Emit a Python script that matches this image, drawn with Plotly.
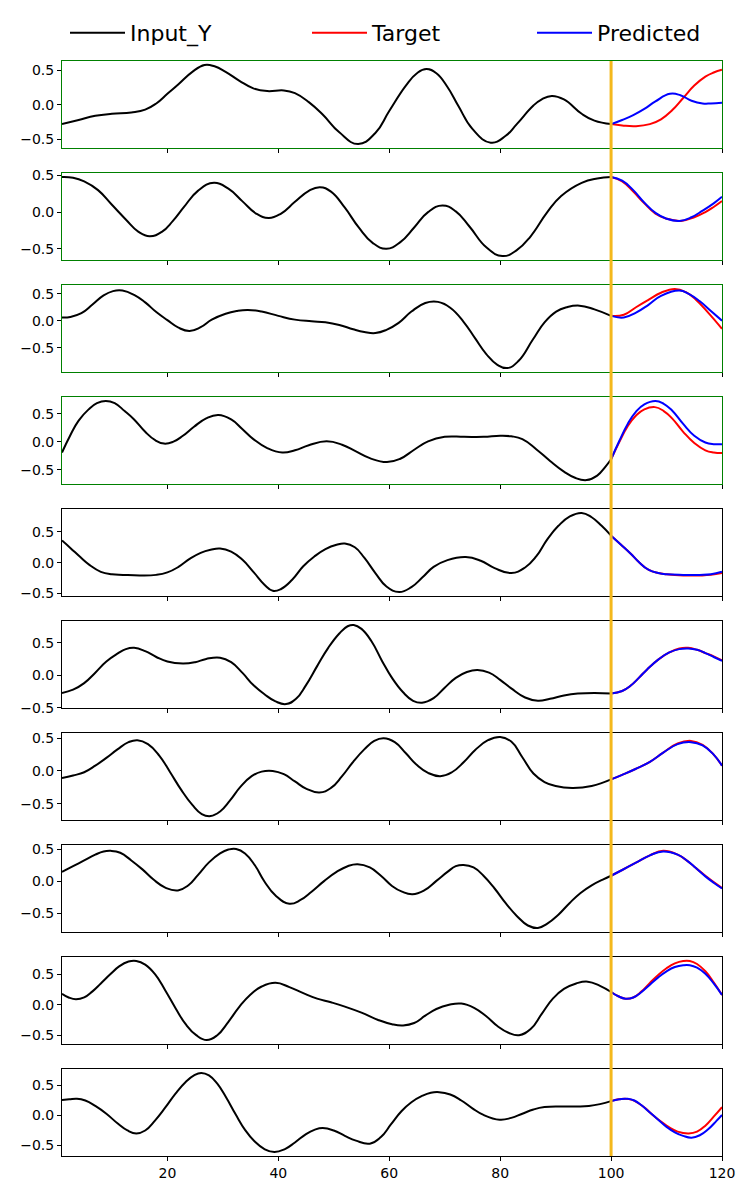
import plotly.graph_objects as go
from plotly.subplots import make_subplots

# values, one panel per sample
p1_in_x = [1, 4, 7, 10, 13.5, 16, 18, 20, 22, 24.5, 26.7, 28.5, 30.5, 33, 35.5, 38, 41, 43, 45.5, 48, 51, 54.4, 57.5, 60, 63, 65, 66.7, 68.5, 70.5, 72.5, 75, 78.3, 81, 83, 86, 87.5, 89.3, 91.5, 94.7, 97, 100]
p1_in_y = [-0.28, -0.22, -0.16, -0.13, -0.11, -0.07, 0.02, 0.16, 0.30, 0.48, 0.58, 0.56, 0.48, 0.35, 0.24, 0.20, 0.21, 0.17, 0.04, -0.14, -0.40, -0.57, -0.41, -0.09, 0.28, 0.46, 0.52, 0.46, 0.26, -0.02, -0.35, -0.55, -0.45, -0.28, -0.01, 0.08, 0.13, 0.08, -0.13, -0.23, -0.28]
p1_tg_x = [100, 102, 104.5, 107, 109, 111, 113, 115, 117, 118.5, 120]
p1_tg_y = [-0.28, -0.30, -0.31, -0.28, -0.21, -0.08, 0.10, 0.28, 0.41, 0.47, 0.51]
p1_pr_x = [100, 102, 104, 106, 108, 110.6, 112.5, 114.5, 116.5, 118, 120]
p1_pr_y = [-0.28, -0.22, -0.15, -0.06, 0.05, 0.16, 0.14, 0.06, 0.02, 0.02, 0.03]

p2_in_x = [1, 3, 5, 7.5, 10, 12.5, 14.8, 16.8, 19, 21, 23, 25.5, 28.4, 31, 33.5, 36, 38.3, 40.5, 43, 45.5, 47.5, 49.5, 52, 54.5, 57, 59.5, 62, 64.5, 67, 69.6, 72, 74.5, 77.5, 80.4, 83, 85.5, 88.5, 91, 94.7, 97.5, 100]
p2_in_y = [0.48, 0.47, 0.42, 0.30, 0.10, -0.10, -0.27, -0.33, -0.27, -0.12, 0.07, 0.29, 0.40, 0.32, 0.15, -0.02, -0.08, -0.02, 0.14, 0.29, 0.34, 0.28, 0.06, -0.21, -0.42, -0.50, -0.41, -0.21, 0.00, 0.09, 0.01, -0.20, -0.48, -0.60, -0.52, -0.33, 0.00, 0.22, 0.40, 0.46, 0.48]
p2_tg_x = [100, 102, 104, 106, 108, 110, 112.6, 115, 117, 118.5, 120]
p2_tg_y = [0.48, 0.42, 0.28, 0.12, -0.02, -0.09, -0.12, -0.07, 0.00, 0.07, 0.15]
p2_pr_x = [100, 102, 104, 106, 108, 110, 112.3, 114.5, 116.5, 118.5, 120]
p2_pr_y = [0.48, 0.43, 0.30, 0.13, -0.01, -0.09, -0.12, -0.07, 0.02, 0.12, 0.21]

p3_in_x = [1, 2.5, 4.5, 6.5, 8.5, 10.2, 11.9, 14, 16, 18, 20, 22, 24, 26, 28, 30.5, 32.5, 34.5, 37, 40, 43, 46, 48.5, 51, 53.5, 55.5, 57.5, 59.5, 61.7, 64, 66.5, 68.8, 71, 73.4, 75.5, 77.5, 79.5, 81.3, 83.3, 85.9, 88, 90.1, 92, 94.3, 97, 100]
p3_in_y = [0.06, 0.07, 0.14, 0.30, 0.47, 0.55, 0.56, 0.48, 0.34, 0.16, 0.01, -0.13, -0.19, -0.12, 0.02, 0.13, 0.18, 0.20, 0.17, 0.09, 0.02, -0.01, -0.03, -0.08, -0.16, -0.21, -0.23, -0.17, -0.04, 0.17, 0.33, 0.35, 0.24, -0.02, -0.33, -0.62, -0.82, -0.88, -0.75, -0.35, -0.03, 0.17, 0.25, 0.28, 0.21, 0.09]
p3_tg_x = [100, 102.3, 104.5, 106.8, 109, 111.5, 113.5, 115.3, 117.5, 120]
p3_tg_y = [0.09, 0.11, 0.25, 0.39, 0.52, 0.59, 0.53, 0.39, 0.15, -0.15]
p3_pr_x = [100, 102.3, 104.5, 106.8, 109, 112.3, 114, 116, 118, 120]
p3_pr_y = [0.09, 0.06, 0.15, 0.30, 0.46, 0.56, 0.50, 0.36, 0.18, 0.00]

p4_in_x = [1, 2.5, 4, 5.8, 7.3, 8.9, 10.5, 12.3, 14, 16, 17.8, 19.4, 21, 22.8, 24.8, 27, 29.2, 31.5, 33.5, 35.5, 38, 40.7, 43, 45.5, 48.7, 51.5, 54, 56.5, 59.6, 62, 64.5, 67, 70, 73.5, 77, 80, 82, 84, 86.5, 89, 91.5, 93.5, 95.6, 97.5, 99, 100]
p4_in_y = [-0.19, 0.12, 0.38, 0.58, 0.69, 0.73, 0.69, 0.55, 0.40, 0.18, 0.03, -0.03, 0.00, 0.11, 0.27, 0.42, 0.48, 0.40, 0.23, 0.05, -0.11, -0.19, -0.15, -0.06, 0.01, -0.05, -0.17, -0.29, -0.36, -0.30, -0.14, 0.01, 0.09, 0.09, 0.09, 0.11, 0.10, 0.05, -0.13, -0.34, -0.53, -0.64, -0.68, -0.60, -0.44, -0.31]
p4_tg_x = [100, 101.5, 103, 104.5, 106, 107.9, 109.5, 111, 113, 115, 117, 118.5, 120]
p4_tg_y = [-0.31, 0.00, 0.28, 0.47, 0.58, 0.62, 0.55, 0.42, 0.18, -0.02, -0.15, -0.19, -0.20]
p4_pr_x = [100, 101.5, 103, 104.5, 106, 108, 109.5, 111, 113, 115, 117, 118.5, 120]
p4_pr_y = [-0.31, 0.02, 0.32, 0.54, 0.67, 0.73, 0.68, 0.56, 0.32, 0.11, -0.01, -0.04, -0.04]

p5_in_x = [1, 2.5, 4.3, 6, 8, 10, 12, 15, 18, 20, 22, 24, 26, 27.8, 29.5, 31.5, 33.5, 35.5, 37.5, 39, 40.5, 42.5, 44.5, 46.5, 48.5, 50.5, 52, 53.8, 55.5, 57.5, 59.5, 61.8, 64, 66, 68, 70.5, 73.8, 76.5, 79, 82, 84.5, 86.5, 88.5, 90.5, 92.5, 94.7, 96.5, 98.3, 100]
p5_in_y = [0.36, 0.24, 0.09, -0.04, -0.15, -0.19, -0.20, -0.21, -0.20, -0.16, -0.07, 0.06, 0.16, 0.21, 0.23, 0.18, 0.05, -0.15, -0.36, -0.46, -0.43, -0.28, -0.06, 0.10, 0.22, 0.29, 0.31, 0.25, 0.08, -0.17, -0.39, -0.48, -0.40, -0.24, -0.07, 0.04, 0.09, 0.03, -0.09, -0.17, -0.08, 0.10, 0.38, 0.60, 0.75, 0.81, 0.74, 0.60, 0.44]
p5_tg_x = [100, 101.7, 103.5, 105, 106.8, 108.5, 110, 113, 116, 118, 120]
p5_tg_y = [0.44, 0.30, 0.15, 0.01, -0.12, -0.17, -0.19, -0.21, -0.21, -0.20, -0.17]
p5_pr_x = [100, 101.7, 103.5, 105, 106.8, 108.5, 110, 113, 116, 118, 120]
p5_pr_y = [0.44, 0.30, 0.15, 0.01, -0.12, -0.17, -0.19, -0.20, -0.20, -0.19, -0.15]

p6_in_x = [1, 3, 5, 7, 9, 11, 12.5, 14, 16, 18, 20, 22.8, 25, 27, 29.5, 31.5, 33.5, 35.5, 37.5, 39.5, 41.4, 43.2, 45, 47, 49, 51, 52.5, 53.6, 55, 56.8, 58.7, 60.5, 62.5, 64.3, 65.9, 68, 70, 72, 74, 75.9, 78, 80, 82, 84.5, 86.8, 89, 91.5, 94, 97, 100]
p6_in_y = [-0.27, -0.22, -0.12, 0.04, 0.21, 0.33, 0.40, 0.42, 0.37, 0.28, 0.21, 0.18, 0.20, 0.25, 0.27, 0.20, 0.04, -0.15, -0.29, -0.40, -0.44, -0.36, -0.15, 0.14, 0.42, 0.64, 0.75, 0.77, 0.71, 0.52, 0.22, -0.04, -0.26, -0.39, -0.42, -0.35, -0.19, -0.04, 0.05, 0.08, 0.04, -0.07, -0.20, -0.34, -0.39, -0.36, -0.31, -0.28, -0.27, -0.28]
p6_tg_x = [100, 102, 103.5, 105, 106.5, 108.5, 110.5, 112.3, 113.9, 115.5, 117, 118.5, 120]
p6_tg_y = [-0.28, -0.24, -0.16, -0.04, 0.09, 0.24, 0.35, 0.41, 0.42, 0.39, 0.34, 0.29, 0.23]
p6_pr_x = [100, 102, 103.5, 105, 106.5, 108.5, 110.5, 112.3, 113.9, 115.5, 117, 118.5, 120]
p6_pr_y = [-0.28, -0.24, -0.16, -0.04, 0.09, 0.24, 0.35, 0.40, 0.41, 0.39, 0.34, 0.28, 0.22]

p7_in_x = [1, 3, 5, 7, 9, 11, 13, 14.6, 16.5, 18.5, 20.5, 22.5, 24.5, 26.2, 27.8, 29.5, 31.3, 33.2, 35.2, 37, 39, 41, 43, 45, 47.4, 49.5, 51.5, 53.5, 55.5, 57.3, 59, 61, 63, 65, 67, 69.2, 71.3, 73.5, 75.5, 77.8, 80, 82, 84, 86, 88, 90, 93, 96.5, 100]
p7_in_y = [-0.11, -0.07, -0.02, 0.08, 0.20, 0.33, 0.44, 0.47, 0.41, 0.24, -0.02, -0.29, -0.52, -0.66, -0.69, -0.62, -0.45, -0.24, -0.08, -0.01, 0.00, -0.05, -0.16, -0.27, -0.33, -0.26, -0.08, 0.14, 0.33, 0.46, 0.50, 0.44, 0.27, 0.09, -0.03, -0.08, -0.02, 0.14, 0.32, 0.47, 0.52, 0.45, 0.21, -0.04, -0.17, -0.23, -0.26, -0.23, -0.13]
p7_tg_x = [100, 102, 104.4, 107, 109.4, 112, 114.4, 116.5, 118.5, 120]
p7_tg_y = [-0.13, -0.06, 0.03, 0.14, 0.28, 0.42, 0.46, 0.40, 0.25, 0.08]
p7_pr_x = [100, 102, 104.4, 107, 109.4, 112, 114.4, 116.5, 118.5, 120]
p7_pr_y = [-0.13, -0.06, 0.03, 0.14, 0.28, 0.41, 0.44, 0.39, 0.25, 0.08]

p8_in_x = [1, 3, 5, 7, 8.5, 9.8, 11.5, 13.5, 15.5, 17.5, 19.7, 21.9, 23.8, 25.5, 27.5, 29.5, 31, 32.4, 34, 35.8, 37.5, 39.5, 42, 44, 46, 48.3, 50.5, 52.5, 54.3, 56.5, 58.5, 60.5, 62.3, 64.2, 66.3, 68.5, 70.5, 72, 73.4, 75.2, 77, 79, 81, 83, 85, 86.8, 88.5, 90.5, 92.5, 94.5, 96.5, 98.5, 100]
p8_in_y = [0.15, 0.24, 0.33, 0.42, 0.47, 0.48, 0.45, 0.33, 0.19, 0.03, -0.10, -0.14, -0.06, 0.10, 0.30, 0.44, 0.50, 0.51, 0.44, 0.25, 0.00, -0.22, -0.35, -0.29, -0.16, 0.01, 0.15, 0.24, 0.27, 0.22, 0.09, -0.07, -0.16, -0.20, -0.14, 0.01, 0.15, 0.24, 0.26, 0.22, 0.09, -0.11, -0.34, -0.54, -0.69, -0.73, -0.66, -0.52, -0.34, -0.18, -0.06, 0.03, 0.09]
p8_tg_x = [100, 102, 104.4, 107, 109.4, 112, 113.8, 115.3, 117, 118.5, 120]
p8_tg_y = [0.09, 0.18, 0.29, 0.41, 0.48, 0.42, 0.32, 0.21, 0.09, -0.01, -0.10]
p8_pr_x = [100, 102, 104.4, 107, 109.4, 112, 113.8, 115.3, 117, 118.5, 120]
p8_pr_y = [0.09, 0.18, 0.29, 0.41, 0.47, 0.42, 0.32, 0.21, 0.08, -0.02, -0.11]

p9_in_x = [1, 2.2, 3.5, 5, 6.5, 8, 9.7, 11.3, 13, 14.4, 16, 17.8, 19.6, 21.5, 23.3, 25.2, 27.1, 29, 31, 33, 35, 37, 39.5, 42, 44.5, 47, 49.5, 52, 55, 58, 60.5, 62.5, 64.5, 66.5, 68.5, 70.8, 73, 75.3, 77.5, 79.5, 81.5, 83.4, 85.5, 87.5, 89.5, 91.5, 93.7, 95.8, 98, 100]
p9_in_y = [0.18, 0.12, 0.09, 0.12, 0.22, 0.35, 0.50, 0.63, 0.71, 0.72, 0.66, 0.50, 0.24, -0.06, -0.32, -0.50, -0.58, -0.50, -0.28, -0.03, 0.17, 0.30, 0.36, 0.29, 0.19, 0.10, 0.04, -0.03, -0.13, -0.25, -0.32, -0.34, -0.30, -0.18, -0.07, 0.00, 0.02, -0.05, -0.19, -0.35, -0.46, -0.50, -0.40, -0.15, 0.10, 0.26, 0.35, 0.38, 0.31, 0.21]
p9_tg_x = [100, 101.3, 102.6, 104, 105.5, 107, 108.5, 110, 111.5, 113, 114.2, 115.5, 117, 118.5, 120]
p9_tg_y = [0.21, 0.14, 0.10, 0.12, 0.22, 0.36, 0.49, 0.60, 0.68, 0.72, 0.72, 0.67, 0.55, 0.37, 0.16]
p9_pr_x = [100, 101.3, 102.6, 104, 105.5, 107, 108.5, 110, 111.5, 113, 114.2, 115.5, 117, 118.5, 120]
p9_pr_y = [0.21, 0.14, 0.10, 0.12, 0.21, 0.33, 0.45, 0.55, 0.62, 0.65, 0.65, 0.61, 0.51, 0.35, 0.16]

p10_in_x = [1, 2.3, 3.7, 5.2, 7, 9, 11, 12.8, 14.4, 16, 17.8, 19.6, 21.5, 23.3, 24.8, 26.1, 27.5, 29, 30.6, 32.3, 34, 35.7, 37.5, 39.3, 41.2, 43, 45, 46.5, 48, 50, 52, 54, 56.5, 58.5, 60.3, 62.2, 64, 66, 67.5, 69, 71, 73, 75, 77, 79.9, 82, 84, 86, 88, 91, 94, 96, 98, 100]
p10_in_y = [0.26, 0.27, 0.28, 0.25, 0.16, 0.03, -0.13, -0.25, -0.30, -0.25, -0.08, 0.13, 0.37, 0.56, 0.67, 0.71, 0.67, 0.53, 0.30, 0.02, -0.24, -0.43, -0.56, -0.61, -0.56, -0.45, -0.31, -0.24, -0.21, -0.25, -0.34, -0.42, -0.47, -0.36, -0.15, 0.07, 0.22, 0.33, 0.38, 0.39, 0.35, 0.25, 0.12, 0.01, -0.07, -0.04, 0.03, 0.10, 0.14, 0.15, 0.15, 0.16, 0.19, 0.24]
p10_tg_x = [100, 101.3, 102.5, 103.8, 105, 106.2, 107.5, 109, 110.5, 112, 114, 115.5, 117, 118.5, 120]
p10_tg_y = [0.24, 0.27, 0.28, 0.26, 0.20, 0.12, 0.01, -0.10, -0.20, -0.27, -0.30, -0.27, -0.17, -0.02, 0.14]
p10_pr_x = [100, 101.5, 103, 104.2, 105.5, 107, 108.5, 110, 111.5, 113, 114.5, 116, 117.5, 119, 120]
p10_pr_y = [0.24, 0.27, 0.28, 0.25, 0.17, 0.05, -0.07, -0.19, -0.28, -0.34, -0.37, -0.33, -0.23, -0.09, 0.01]

x_ticks = [20, 40, 60, 80, 100, 120]
split_at = 100

panels = [
    (p1_in_x, p1_in_y, p1_tg_x, p1_tg_y, p1_pr_x, p1_pr_y),
    (p2_in_x, p2_in_y, p2_tg_x, p2_tg_y, p2_pr_x, p2_pr_y),
    (p3_in_x, p3_in_y, p3_tg_x, p3_tg_y, p3_pr_x, p3_pr_y),
    (p4_in_x, p4_in_y, p4_tg_x, p4_tg_y, p4_pr_x, p4_pr_y),
    (p5_in_x, p5_in_y, p5_tg_x, p5_tg_y, p5_pr_x, p5_pr_y),
    (p6_in_x, p6_in_y, p6_tg_x, p6_tg_y, p6_pr_x, p6_pr_y),
    (p7_in_x, p7_in_y, p7_tg_x, p7_tg_y, p7_pr_x, p7_pr_y),
    (p8_in_x, p8_in_y, p8_tg_x, p8_tg_y, p8_pr_x, p8_pr_y),
    (p9_in_x, p9_in_y, p9_tg_x, p9_tg_y, p9_pr_x, p9_pr_y),
    (p10_in_x, p10_in_y, p10_tg_x, p10_tg_y, p10_pr_x, p10_pr_y),
]

n = len(panels)
fig = make_subplots(rows=n, cols=1, shared_xaxes=True, vertical_spacing=25 / 1095)


def curve(color):
    return dict(color=color, width=2, shape="spline", smoothing=1.3)


for i, (ix, iy, tx, ty, px, py) in enumerate(panels):
    row = i + 1
    first = i == 0
    fig.add_trace(go.Scatter(x=ix, y=iy, mode="lines", name="Input_Y", line=curve("black"),
                             legend="legend", showlegend=first), row=row, col=1)
    fig.add_trace(go.Scatter(x=tx, y=ty, mode="lines", name="Target", line=curve("red"),
                             legend="legend2", showlegend=first), row=row, col=1)
    fig.add_trace(go.Scatter(x=px, y=py, mode="lines", name="Predicted", line=curve("blue"),
                             legend="legend3", showlegend=first), row=row, col=1)

    # matplotlib-style 5% margin around the data
    vals = iy + ty + py
    lo, hi = min(vals), max(vals)
    pad = 0.05 * (hi - lo)
    frame = "green" if i < 4 else "black"
    fig.update_yaxes(range=[lo - pad, hi + pad], tick0=0, dtick=0.5, tickformat=".1f",
                     showline=True, mirror=True, linecolor=frame, linewidth=1,
                     ticks="outside", ticklen=4, tickcolor="black",
                     showgrid=False, zeroline=False, row=row, col=1)
    fig.update_xaxes(range=[1, 120], tickvals=x_ticks,
                     showline=True, mirror=True, linecolor=frame, linewidth=1,
                     ticks="outside", ticklen=4, tickcolor="black",
                     showgrid=False, zeroline=False,
                     showticklabels=(row == n), row=row, col=1)

fig.add_shape(type="line", xref="x", yref="paper", x0=split_at, x1=split_at, y0=0, y1=1,
              line=dict(color="#F4B81C", width=3))

leg = dict(orientation="h", xref="container", yref="container", y=1 - 33 / 1197,
           xanchor="left", yanchor="middle", font=dict(size=22), itemwidth=55,
           bgcolor="rgba(0,0,0,0)")
fig.update_layout(
    width=752, height=1197,
    margin=dict(l=62, r=30, t=61, b=41, autoexpand=False),
    plot_bgcolor="white", paper_bgcolor="white",
    font=dict(family="DejaVu Sans", size=14, color="black"),
    legend=dict(leg, x=65 / 752),
    legend2=dict(leg, x=307 / 752),
    legend3=dict(leg, x=532 / 752),
)

# drop the browser's default body margin so the figure sits at the page corner
fig.write_html("out.html", config={"displayModeBar": False},
               post_script="document.body.style.margin='0px';")
